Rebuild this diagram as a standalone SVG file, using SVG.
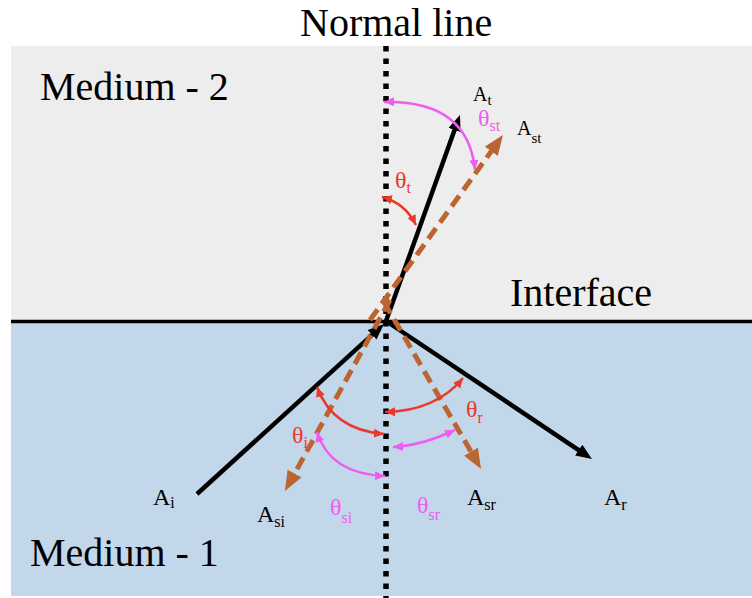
<svg xmlns="http://www.w3.org/2000/svg" width="752" height="598" viewBox="0 0 752 598">
<style>
text{font-family:'Liberation Serif','DejaVu Serif','Times New Roman',serif}
.big{font-size:40px;fill:#000}
.lbl{fill:#000}
.red{fill:#E8392B}
.mag{fill:#EE5EEE}
.ray{stroke:#000;stroke-width:4.5;fill:none}
.sc{stroke:#BD6530;stroke-width:5;stroke-dasharray:13 7;fill:none}
.arcR{stroke:#E8392B;stroke-width:2.5;fill:none}
.arcM{stroke:#EE5EEE;stroke-width:2.5;fill:none}
</style>
<defs>
<marker id="hb" markerUnits="userSpaceOnUse" markerWidth="16" markerHeight="13" refX="4" refY="6.5" orient="auto"><path d="M0,0 L16,6.5 L0,13 z" fill="#000"/></marker>
<marker id="ho" markerUnits="userSpaceOnUse" markerWidth="20" markerHeight="16" refX="5" refY="8" orient="auto"><path d="M0,0 L20,8 L0,16 z" fill="#BD6530"/></marker>
<marker id="hr" markerUnits="userSpaceOnUse" markerWidth="10" markerHeight="9" refX="10" refY="4.5" orient="auto-start-reverse"><path d="M0,0 L10,4.5 L0,9 z" fill="#E8392B"/></marker>
<marker id="hm" markerUnits="userSpaceOnUse" markerWidth="10" markerHeight="9" refX="10" refY="4.5" orient="auto-start-reverse"><path d="M0,0 L10,4.5 L0,9 z" fill="#EE5EEE"/></marker>
</defs>
<g id="medium2"><rect x="11" y="46" width="741" height="276" fill="#EDEDED"/></g>
<g id="medium1"><rect x="11" y="322" width="741" height="274" fill="#C3D7EB"/></g>
<g id="interface"><line x1="11" y1="321.5" x2="752" y2="321.5" stroke="#000" stroke-width="3.5"/></g>
<g id="normal"><line x1="386" y1="46" x2="386" y2="598" stroke="#000" stroke-width="5.5" stroke-dasharray="5.5 7"/></g>
<g id="connectors">
<line class="ray" x1="197" y1="494" x2="375.1" y2="332.1" marker-end="url(#hb)"/>
<line class="ray" x1="386" y1="321" x2="455.9" y2="126.3" marker-end="url(#hb)"/>
<line class="ray" x1="386" y1="321" x2="582" y2="452.3" marker-end="url(#hb)"/>
<line class="sc" x1="370" y1="320" x2="494.2" y2="147.2" marker-end="url(#ho)"/>
<line class="sc" x1="390" y1="300" x2="292.2" y2="477.9" marker-end="url(#ho)"/>
<line class="sc" x1="384" y1="302" x2="473.5" y2="456" marker-end="url(#ho)"/>
<path class="arcR" d="M382 197 Q405 203 416 225" marker-start="url(#hr)" marker-end="url(#hr)"/>
<path class="arcM" d="M384 102 Q468 100 475 170" marker-start="url(#hm)" marker-end="url(#hm)"/>
<path class="arcR" d="M317 387 Q333 430 384 434" marker-start="url(#hr)" marker-end="url(#hr)"/>
<path class="arcM" d="M317 432 Q330 474 385 476" marker-start="url(#hm)" marker-end="url(#hm)"/>
<path class="arcR" d="M385 412 Q436 411 463 378" marker-start="url(#hr)" marker-end="url(#hr)"/>
<path class="arcM" d="M393 447 Q422 445.5 455 430" marker-start="url(#hm)" marker-end="url(#hm)"/>
</g>
<g id="titles">
<text class="big" x="300" y="36">Normal line</text>
<text class="big" x="40" y="100">Medium - 2</text>
<text class="big" x="510" y="306">Interface</text>
<text class="big" x="30" y="566">Medium - 1</text>
</g>
<g id="label-At"><text class="lbl" x="473" y="101" font-size="20">A<tspan font-size="15" dy="4">t</tspan></text></g>
<g id="label-Ast"><text class="lbl" x="517" y="135" font-size="20">A<tspan font-size="15" dy="8">st</tspan></text></g>
<g id="label-Ai"><text class="lbl" x="153" y="505" font-size="24">A<tspan font-size="16" dy="3">i</tspan></text></g>
<g id="label-Asi"><text class="lbl" x="257" y="521.5" font-size="24">A<tspan font-size="16" dy="5">si</tspan></text></g>
<g id="label-Asr"><text class="lbl" x="467" y="505" font-size="24">A<tspan font-size="16" dy="5">sr</tspan></text></g>
<g id="label-Ar"><text class="lbl" x="604" y="505" font-size="24">A<tspan font-size="16" dy="5">r</tspan></text></g>
<g id="label-tt"><text class="lbl red" x="395" y="188" font-size="24">θ<tspan font-size="16" dy="5">t</tspan></text></g>
<g id="label-tst"><text class="lbl mag" x="478" y="126" font-size="24">θ<tspan font-size="16" dy="5">st</tspan></text></g>
<g id="label-ti"><text class="lbl red" x="292" y="443" font-size="24">θ<tspan font-size="16" dy="5">i</tspan></text></g>
<g id="label-tsi"><text class="lbl mag" x="330" y="515" font-size="24">θ<tspan font-size="16" dy="8">si</tspan></text></g>
<g id="label-tr"><text class="lbl red" x="466" y="417" font-size="24">θ<tspan font-size="16" dy="6">r</tspan></text></g>
<g id="label-tsr"><text class="lbl mag" x="417" y="513" font-size="24">θ<tspan font-size="16" dy="7">sr</tspan></text></g>
</svg>
